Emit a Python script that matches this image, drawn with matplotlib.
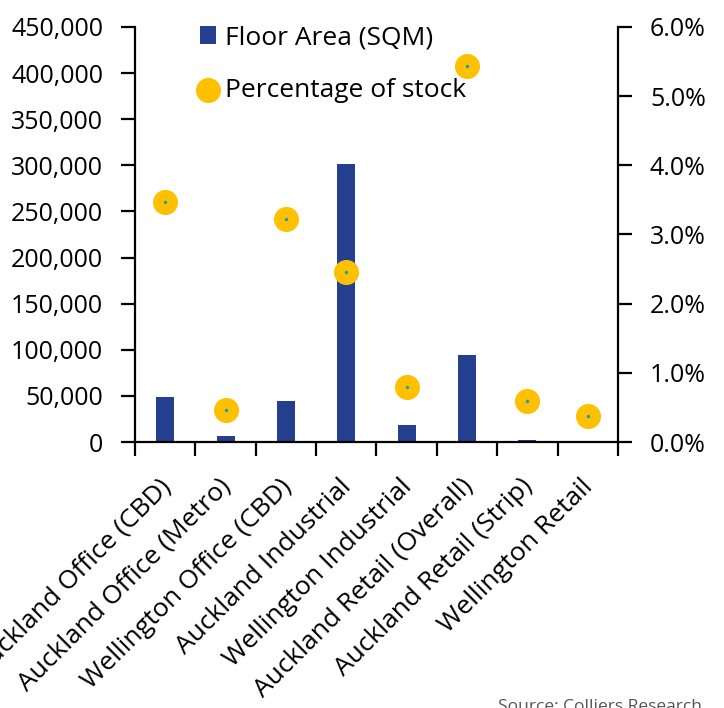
import matplotlib.pyplot as plt
import matplotlib.transforms as mtransforms
import numpy as np

categories = ["Auckland Office (CBD)", "Auckland Office (Metro)", "Wellington Office (CBD)",
              "Auckland Industrial", "Wellington Industrial", "Auckland Retail (Overall)",
              "Auckland Retail (Strip)", "Wellington Retail"]
floor_area = [49000, 7000, 44000, 301000, 18500, 94000, 2000, 500]
pct_stock = [3.47, 0.46, 3.22, 2.46, 0.80, 5.43, 0.60, 0.38]

plt.rcParams['font.family'] = ['Open Sans', 'DejaVu Sans']

fig = plt.figure(figsize=(7.24, 7.08), dpi=100)
ax = fig.add_axes([0.1865, 0.3757, 0.667, 0.5862])
ax2 = ax.twinx()

x = np.arange(len(categories))
bars = ax.bar(x, floor_area, width=0.3, color="#253f8f", label="Floor Area (SQM)", zorder=2)
pts = ax2.scatter(x, pct_stock, s=290, color="#ffc000", label="Percentage of stock", zorder=3)
ax2.scatter(x, pct_stock, s=2, color="#1f9bb5", zorder=4)

ax.set_xlim(-0.5, len(categories) - 0.5)
ax.set_ylim(0, 450000)
ax2.set_ylim(0, 6.0)
ax.set_yticks(range(0, 450001, 50000))
ax.set_yticklabels([f"{v:,}" for v in range(0, 450001, 50000)])
ax2.set_yticks(np.arange(0, 6.01, 1.0))
ax2.set_yticklabels([f"{v:.1f}%" for v in np.arange(0, 6.01, 1.0)])

# tick marks on the category boundaries, labels at the centres
ax.set_xticks(np.arange(-0.5, len(categories), 1.0))
ax.set_xticklabels([])
ax.set_xticks(x, minor=True)
ax.set_xticklabels(categories, minor=True, rotation=45, ha="right", rotation_mode="anchor")
ax.tick_params(axis="x", which="minor", length=0, pad=23, labelsize=19)
ax.tick_params(axis="x", which="major", length=10, width=1.6)
ax.tick_params(axis="y", length=10, width=1.6, labelsize=18, pad=13)
ax2.tick_params(axis="y", length=10, width=1.6, labelsize=18, pad=13)

shift = mtransforms.ScaledTranslation(-7 / 100, 0, fig.dpi_scale_trans)
for lbl in ax.get_xticklabels(minor=True):
    lbl.set_transform(lbl.get_transform() + shift)

for a in (ax, ax2):
    a.spines["top"].set_visible(False)
    for s in ("left", "right", "bottom"):
        a.spines[s].set_linewidth(1.6)
ax.spines["right"].set_visible(False)
ax2.spines["left"].set_visible(False)
ax2.spines["bottom"].set_visible(False)

ax.legend([bars, pts], ["Floor Area (SQM)", "Percentage of stock"], loc="upper left",
          bbox_to_anchor=(0.113, 1.03), borderaxespad=0, frameon=False, fontsize=19,
          handlelength=0.6, handletextpad=0.35, labelspacing=1.05, markerscale=1.0)

fig.text(0.970, 0.013, "Source: Colliers Research", ha="right", va="top",
         fontsize=12.5, color="#555555")

fig.savefig("out.png", dpi=100)
